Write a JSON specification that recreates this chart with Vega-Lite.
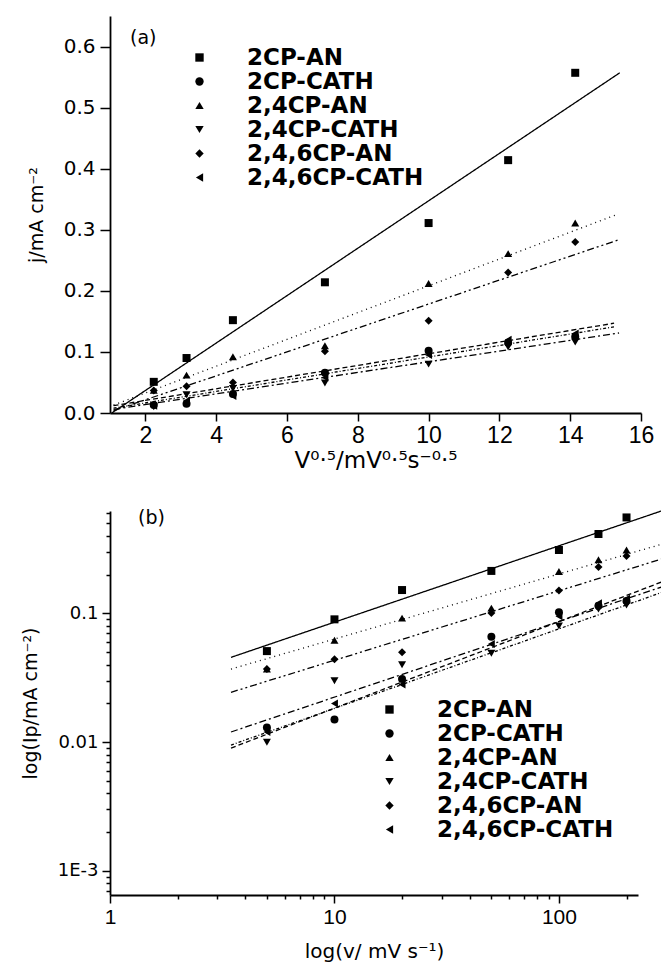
{
  "$schema": "https://vega.github.io/schema/vega-lite/v6.json",
  "background": "white",
  "padding": {"left": 21, "top": 16, "right": 5, "bottom": 5},
  "spacing": 32,
  "datasets": {
    "pts": [
      {"series": "2CP-AN", "v": 5, "sv": 2.236, "j": 0.051},
      {"series": "2CP-AN", "v": 10, "sv": 3.162, "j": 0.090},
      {"series": "2CP-AN", "v": 20, "sv": 4.472, "j": 0.152},
      {"series": "2CP-AN", "v": 50, "sv": 7.071, "j": 0.214},
      {"series": "2CP-AN", "v": 100, "sv": 10, "j": 0.311},
      {"series": "2CP-AN", "v": 150, "sv": 12.247, "j": 0.414},
      {"series": "2CP-AN", "v": 200, "sv": 14.142, "j": 0.557},
      {"series": "2CP-CATH", "v": 5, "sv": 2.236, "j": 0.013},
      {"series": "2CP-CATH", "v": 10, "sv": 3.162, "j": 0.015},
      {"series": "2CP-CATH", "v": 20, "sv": 4.472, "j": 0.031},
      {"series": "2CP-CATH", "v": 50, "sv": 7.071, "j": 0.066},
      {"series": "2CP-CATH", "v": 100, "sv": 10, "j": 0.102},
      {"series": "2CP-CATH", "v": 150, "sv": 12.247, "j": 0.115},
      {"series": "2CP-CATH", "v": 200, "sv": 14.142, "j": 0.125},
      {"series": "2,4CP-AN", "v": 5, "sv": 2.236, "j": 0.037},
      {"series": "2,4CP-AN", "v": 10, "sv": 3.162, "j": 0.062},
      {"series": "2,4CP-AN", "v": 20, "sv": 4.472, "j": 0.092},
      {"series": "2,4CP-AN", "v": 50, "sv": 7.071, "j": 0.110},
      {"series": "2,4CP-AN", "v": 100, "sv": 10, "j": 0.212},
      {"series": "2,4CP-AN", "v": 150, "sv": 12.247, "j": 0.261},
      {"series": "2,4CP-AN", "v": 200, "sv": 14.142, "j": 0.311},
      {"series": "2,4CP-CATH", "v": 5, "sv": 2.236, "j": 0.010},
      {"series": "2,4CP-CATH", "v": 10, "sv": 3.162, "j": 0.030},
      {"series": "2,4CP-CATH", "v": 20, "sv": 4.472, "j": 0.040},
      {"series": "2,4CP-CATH", "v": 50, "sv": 7.071, "j": 0.049},
      {"series": "2,4CP-CATH", "v": 100, "sv": 10, "j": 0.080},
      {"series": "2,4CP-CATH", "v": 150, "sv": 12.247, "j": 0.108},
      {"series": "2,4CP-CATH", "v": 200, "sv": 14.142, "j": 0.116},
      {"series": "2,4,6CP-AN", "v": 5, "sv": 2.236, "j": 0.037},
      {"series": "2,4,6CP-AN", "v": 10, "sv": 3.162, "j": 0.044},
      {"series": "2,4,6CP-AN", "v": 20, "sv": 4.472, "j": 0.050},
      {"series": "2,4,6CP-AN", "v": 50, "sv": 7.071, "j": 0.101},
      {"series": "2,4,6CP-AN", "v": 100, "sv": 10, "j": 0.151},
      {"series": "2,4,6CP-AN", "v": 150, "sv": 12.247, "j": 0.230},
      {"series": "2,4,6CP-AN", "v": 200, "sv": 14.142, "j": 0.280},
      {"series": "2,4,6CP-CATH", "v": 5, "sv": 2.236, "j": 0.012},
      {"series": "2,4,6CP-CATH", "v": 10, "sv": 3.162, "j": 0.020},
      {"series": "2,4,6CP-CATH", "v": 20, "sv": 4.472, "j": 0.028},
      {"series": "2,4,6CP-CATH", "v": 50, "sv": 7.071, "j": 0.058},
      {"series": "2,4,6CP-CATH", "v": 100, "sv": 10, "j": 0.095},
      {"series": "2,4,6CP-CATH", "v": 150, "sv": 12.247, "j": 0.120},
      {"series": "2,4,6CP-CATH", "v": 200, "sv": 14.142, "j": 0.130}
    ],
    "fa": [
      {"series": "2CP-AN", "sv": 1.05, "j": 0.0},
      {"series": "2CP-AN", "sv": 15.4, "j": 0.557},
      {"series": "2CP-CATH", "sv": 1.1, "j": 0.012},
      {"series": "2CP-CATH", "sv": 15.24, "j": 0.147},
      {"series": "2,4CP-AN", "sv": 1.1, "j": 0.013},
      {"series": "2,4CP-AN", "sv": 15.32, "j": 0.325},
      {"series": "2,4CP-CATH", "sv": 1.1, "j": 0.006},
      {"series": "2,4CP-CATH", "sv": 15.38, "j": 0.131},
      {"series": "2,4,6CP-AN", "sv": 1.1, "j": 0.004},
      {"series": "2,4,6CP-AN", "sv": 15.34, "j": 0.283},
      {"series": "2,4,6CP-CATH", "sv": 1.1, "j": 0.008},
      {"series": "2,4,6CP-CATH", "sv": 15.24, "j": 0.141}
    ],
    "fb": [
      {"series": "2CP-AN", "v": 3.46, "j": 0.0456},
      {"series": "2CP-AN", "v": 285, "j": 0.624},
      {"series": "2CP-CATH", "v": 3.46, "j": 0.009},
      {"series": "2CP-CATH", "v": 285, "j": 0.175},
      {"series": "2,4CP-AN", "v": 3.46, "j": 0.037},
      {"series": "2,4CP-AN", "v": 285, "j": 0.344},
      {"series": "2,4CP-CATH", "v": 3.46, "j": 0.012},
      {"series": "2,4CP-CATH", "v": 285, "j": 0.16},
      {"series": "2,4,6CP-AN", "v": 3.46, "j": 0.0244},
      {"series": "2,4,6CP-AN", "v": 285, "j": 0.264},
      {"series": "2,4,6CP-CATH", "v": 3.46, "j": 0.0095},
      {"series": "2,4,6CP-CATH", "v": 285, "j": 0.145}
    ]
  },
  "vconcat": [
    {
      "width": 531,
      "height": 397,
      "title": {"text": "(a)", "anchor": "start", "frame": "group", "offset": -47, "dx": 20, "font": "DejaVu Sans", "fontSize": 19, "fontWeight": "normal", "baseline": "alphabetic", "color": "black"},
      "layer": [
        {
          "data": {"name": "fa"},
          "mark": {"type": "line", "color": "black", "strokeWidth": 1.3, "clip": false},
          "encoding": {
            "x": {
              "field": "sv", "type": "quantitative",
              "scale": {"domain": [1, 16], "nice": false, "zero": false},
              "axis": {
                "title": "V⁰·⁵/mV⁰·⁵s⁻⁰·⁵",
                "titleFont": "DejaVu Sans", "titleFontSize": 23, "titlePadding": 2,
                "values": [2, 3, 4, 5, 6, 7, 8, 9, 10, 11, 12, 13, 14, 15, 16],
                "labelExpr": "datum.value % 2 == 0 ? format(datum.value, 'd') : ''",
                "labelFont": "Liberation Sans", "labelFontSize": 23, "labelPadding": 3,
                "tickSize": {"condition": {"test": "datum.value % 2 == 0", "value": 8}, "value": 4}
              }
            },
            "y": {
              "field": "j", "type": "quantitative",
              "scale": {"domain": [0, 0.65], "nice": false, "zero": false},
              "axis": {
                "title": "j/mA cm⁻²",
                "titleFont": "DejaVu Sans", "titleFontSize": 19, "titlePadding": 17,
                "values": [0, 0.05, 0.1, 0.15, 0.2, 0.25, 0.3, 0.35, 0.4, 0.45, 0.5, 0.55, 0.6, 0.65],
                "labelExpr": "round(datum.value * 100) % 10 == 0 ? format(datum.value, '.1f') : ''",
                "labelFont": "DejaVu Sans", "labelFontSize": 20, "labelPadding": 5,
                "tickSize": {"condition": {"test": "round(datum.value * 100) % 10 == 0", "value": 10}, "value": 5}
              }
            },
            "strokeDash": {
              "field": "series", "type": "nominal",
              "scale": {
                "domain": ["2,4,6CP-CATH", "2,4,6CP-AN", "2,4CP-CATH", "2,4CP-AN", "2CP-CATH", "2CP-AN"],
                "range": [[3, 2, 1, 2], [7, 3, 2, 3, 2, 3], [7, 3, 2, 3], [1, 4], [5, 3], [1, 0]]
              },
              "legend": null
            }
          }
        },
        {
          "data": {"name": "pts"},
          "mark": {"type": "point", "filled": true, "size": 64, "color": "black", "opacity": 1},
          "encoding": {
            "x": {"field": "sv", "type": "quantitative"},
            "y": {"field": "j", "type": "quantitative"},
            "shape": {
              "field": "series", "type": "nominal",
              "scale": {
                "domain": ["2CP-AN", "2CP-CATH", "2,4CP-AN", "2,4CP-CATH", "2,4,6CP-AN", "2,4,6CP-CATH"],
                "range": ["square", "circle", "triangle-up", "triangle-down", "diamond", "triangle-left"]
              },
              "legend": {"title": null, "orient": "none", "legendX": 78, "legendY": 30}
            }
          }
        }
      ]
    },
    {
      "width": 528,
      "height": 384,
      "title": {"text": "(b)", "anchor": "start", "frame": "group", "offset": -39, "dx": 28, "font": "DejaVu Sans", "fontSize": 19, "fontWeight": "normal", "baseline": "alphabetic", "color": "black"},
      "layer": [
        {
          "data": {"name": "fb"},
          "mark": {"type": "line", "color": "black", "strokeWidth": 1.3, "clip": false},
          "encoding": {
            "x": {
              "field": "v", "type": "quantitative",
              "scale": {"type": "log", "domain": [1, 225], "nice": false},
              "axis": {
                "title": "log(v/ mV s⁻¹)",
                "titleFont": "DejaVu Sans", "titleFontSize": 20, "titlePadding": 14,
                "values": [1, 2, 3, 4, 5, 6, 7, 8, 9, 10, 20, 30, 40, 50, 60, 70, 80, 90, 100, 200],
                "labelExpr": "(datum.value == 1 || datum.value == 10 || datum.value == 100) ? format(datum.value, 'd') : ''",
                "labelFont": "Liberation Sans", "labelFontSize": 21, "labelPadding": 3,
                "tickSize": {"condition": {"test": "datum.value == 1 || datum.value == 10 || datum.value == 100", "value": 8}, "value": 4}
              }
            },
            "y": {
              "field": "j", "type": "quantitative",
              "scale": {"type": "log", "domain": [0.00065, 0.625], "nice": false},
              "axis": {
                "title": "log(Ip/mA cm⁻²)",
                "titleFont": "DejaVu Sans", "titleFontSize": 19, "titlePadding": 17,
                "values": [0.0007, 0.0008, 0.0009, 0.001, 0.002, 0.003, 0.004, 0.005, 0.006, 0.007, 0.008, 0.009, 0.01, 0.02, 0.03, 0.04, 0.05, 0.06, 0.07, 0.08, 0.09, 0.1, 0.2, 0.3, 0.4, 0.5, 0.6],
                "labelExpr": "datum.value == 0.001 ? '1E-3' : datum.value == 0.01 ? '0.01' : datum.value == 0.1 ? '0.1' : ''",
                "labelFont": "DejaVu Sans", "labelFontSize": 18, "labelPadding": 4,
                "tickSize": {"condition": {"test": "datum.value == 0.001 || datum.value == 0.01 || datum.value == 0.1", "value": 8}, "value": 4}
              }
            },
            "strokeDash": {
              "field": "series", "type": "nominal",
              "scale": {
                "domain": ["2,4,6CP-CATH", "2,4,6CP-AN", "2,4CP-CATH", "2,4CP-AN", "2CP-CATH", "2CP-AN"],
                "range": [[3, 2, 1, 2], [7, 3, 2, 3, 2, 3], [7, 3, 2, 3], [1, 4], [5, 3], [1, 0]]
              },
              "legend": null
            }
          }
        },
        {
          "data": {"name": "pts"},
          "mark": {"type": "point", "filled": true, "size": 64, "color": "black", "opacity": 1},
          "encoding": {
            "x": {"field": "v", "type": "quantitative"},
            "y": {"field": "j", "type": "quantitative"},
            "shape": {
              "field": "series", "type": "nominal",
              "scale": {
                "domain": ["2CP-AN", "2CP-CATH", "2,4CP-AN", "2,4CP-CATH", "2,4,6CP-AN", "2,4,6CP-CATH"],
                "range": ["square", "circle", "triangle-up", "triangle-down", "diamond", "triangle-left"]
              },
              "legend": {"title": null, "orient": "none", "legendX": 268, "legendY": 187}
            }
          }
        }
      ]
    }
  ],
  "resolve": {
    "scale": {"shape": "independent", "strokeDash": "independent"},
    "legend": {"shape": "independent"}
  },
  "config": {
    "view": {"stroke": null},
    "axis": {
      "grid": false,
      "domainColor": "black",
      "domainWidth": 1.8,
      "tickColor": "black",
      "tickWidth": 1.5,
      "labelColor": "black",
      "titleColor": "black",
      "titleFontWeight": "normal",
      "labelOverlap": false,
      "labelFlush": false
    },
    "legend": {
      "padding": 0,
      "labelFont": "DejaVu Sans",
      "labelFontWeight": "bold",
      "labelFontSize": 23,
      "labelColor": "black",
      "labelLimit": 400,
      "labelOffset": 36,
      "rowPadding": 0,
      "symbolSize": 70,
      "symbolFillColor": "black",
      "symbolStrokeColor": "black",
      "symbolStrokeWidth": 0
    }
  }
}
